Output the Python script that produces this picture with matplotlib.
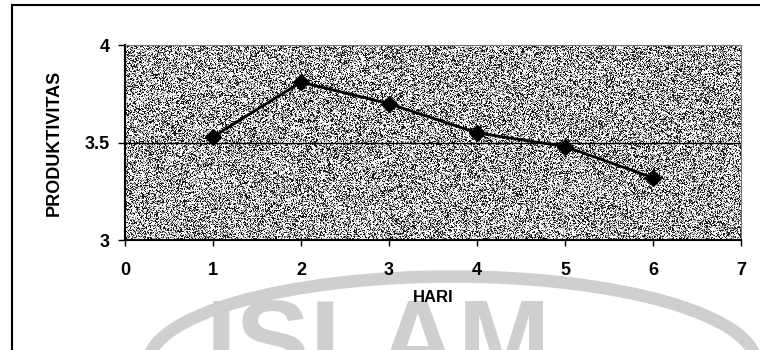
import matplotlib
matplotlib.use('Agg')
import numpy as np
import matplotlib.pyplot as plt
from matplotlib.patches import Arc
from matplotlib.lines import Line2D

# data
hari = [1, 2, 3, 4, 5, 6]
produktivitas = [3.53, 3.81, 3.70, 3.55, 3.48, 3.32]
xticks = [0, 1, 2, 3, 4, 5, 6, 7]
yticks = [3, 3.5, 4]
ytick_labels = ['3', '3.5', '4']

plt.rcParams['font.family'] = ['Liberation Sans', 'DejaVu Sans']

fig = plt.figure(figsize=(7.6, 3.5), dpi=100)
fig.patch.set_facecolor('white')

# watermark of the scanned page (behind everything)
fig.patches.append(Arc((0.595, -0.04), 0.80, 0.50, theta1=0, theta2=180,
                       transform=fig.transFigure, color='#cfcfcf', lw=9, zorder=-2))
fig.text(0.27, -0.145, 'ISLAM', fontsize=80, color='#cfcfcf', fontweight='bold',
         ha='left', va='bottom', zorder=-2)

# outer frame of the scanned chart box
fig.add_artist(Line2D([0.016, 1.0], [0.986, 0.986], transform=fig.transFigure, color='black', lw=1.5))
fig.add_artist(Line2D([0.016, 0.016], [0.0, 0.986], transform=fig.transFigure, color='black', lw=1.5))

ax = fig.add_axes([0.1645, 0.314, 0.8105, 0.557])
ax.patch.set_alpha(0)

# stippled grey plot area (texture only)
rng = np.random.default_rng(3)
tex = rng.choice([0.1, 0.6, 0.98], size=(200, 620), p=[0.30, 0.22, 0.48])
ax.imshow(tex, cmap='gray', vmin=0, vmax=1, extent=[0, 7, 3, 4],
          aspect='auto', interpolation='nearest', zorder=0)

ax.axhline(3.5, color='black', lw=1.0, zorder=1)
ax.plot(hari, produktivitas, color='black', lw=2.0, marker='D', markersize=8, zorder=3)

ax.set_xlim(0, 7)
ax.set_ylim(3, 4)
ax.set_xticks(xticks)
ax.set_xticklabels([str(t) for t in xticks], fontsize=13, fontweight='bold')
ax.set_yticks(yticks)
ax.set_yticklabels(ytick_labels, fontsize=13, fontweight='bold')
ax.tick_params(axis='x', direction='out', length=4, width=1, pad=12)
ax.tick_params(axis='y', direction='out', length=5, width=1, pad=6)

for s in ['left', 'bottom']:
    ax.spines[s].set_color('black')
    ax.spines[s].set_linewidth(1.5)
for s in ['top', 'right']:
    ax.spines[s].set_color('#777777')
    ax.spines[s].set_linewidth(0.8)

ax.set_xlabel('HARI', fontsize=12, fontweight='bold', labelpad=8)
ax.set_ylabel('PRODUKTIVITAS', fontsize=13, fontweight='bold', labelpad=16)

fig.savefig('out.png', dpi=100)
